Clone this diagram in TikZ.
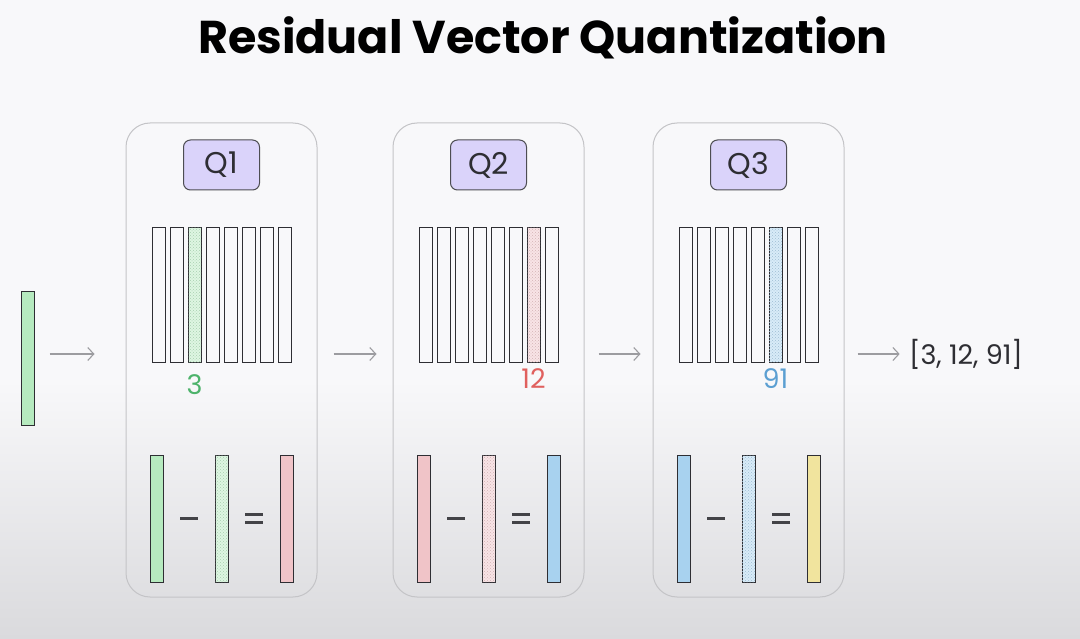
\documentclass[tikz,border=0pt]{standalone}
\usepackage{fontspec}
\setmainfont{Poppins}
\usepackage{xcolor}
\usetikzlibrary{positioning,arrows.meta,patterns}
\definecolor{BgTop}{HTML}{F8F8FA}
\definecolor{BgBottom}{HTML}{DADADD}
\definecolor{FrameGray}{HTML}{C4C4C7}
\definecolor{InkGray}{HTML}{2E2E33}
\definecolor{ArrowGray}{HTML}{9C9CA0}
\definecolor{CodeGreen}{HTML}{B6EABF}
\definecolor{CodePink}{HTML}{F0C4C8}
\definecolor{CodeBlue}{HTML}{A8D2EF}
\definecolor{CodeYellow}{HTML}{F1E49E}
\definecolor{QPurple}{HTML}{DAD3FA}
\definecolor{IdxGreen}{HTML}{4DB36B}
\definecolor{IdxRed}{HTML}{E0605E}
\definecolor{IdxBlue}{HTML}{5B9FD2}

\begin{document}
\begin{tikzpicture}[
  x=1pt, y=-1pt,
  stage/.style={draw=FrameGray, line width=1pt, rounded corners=24pt, minimum width=191pt, minimum height=474pt},
  qtag/.style={draw=InkGray!85, line width=1pt, fill=QPurple, rounded corners=7pt, minimum width=76pt, minimum height=50pt, font=\fontsize{30}{32}\selectfont, text=InkGray},
  code/.style={draw=InkGray, line width=1pt, minimum width=13pt, minimum height=134pt, inner sep=0pt},
  vec/.style={draw=InkGray, line width=1pt, minimum width=13pt, minimum height=127pt, inner sep=0pt},
  hatch/.style={fill=#1!45, postaction={pattern=crosshatch dots, pattern color=#1!75!gray}},
  idx/.style={font=\fontsize{27}{29}\selectfont},
  sign/.style={line width=2.6pt, draw=InkGray!90},
  flow/.style={-{Straight Barb[length=6pt, width=13pt]}, line width=1.1pt, draw=ArrowGray}
]
\useasboundingbox (0,0) rectangle (1080,639);
\fill[BgTop] (0,0) rectangle (1080,639);
\shade[top color=BgTop, bottom color=BgBottom] (0,380) rectangle (1080,639);

\node[font=\fontsize{46}{50}\selectfont\bfseries, text=black] (title) at (543,38) {Residual Vector Quantization};

% quantizer stages
\node[stage] (s1) at (221.5,360) {};
\node[stage] (s2) at (488.5,360) {};
\node[stage] (s3) at (748.5,360) {};
\node[qtag, below=17pt of s1.north] (q1) {Q1};
\node[qtag, below=17pt of s2.north] (q2) {Q2};
\node[qtag, below=17pt of s3.north] (q3) {Q3};

% codebooks
\foreach \s in {1,2,3}
  \foreach \i in {0,...,7}
    \node[code] (c\s-\i) at ([xshift=-63pt+18*\i pt, yshift=65pt]s\s.center) {};
\node[code, hatch=CodeGreen] at (c1-2) {};
\node[code, hatch=CodePink] at (c2-6) {};
\node[code, hatch=CodeBlue] at (c3-5) {};
\node[idx, text=IdxGreen, below=9pt of c1-2] (i1) {3};
\node[idx, text=IdxRed, below=3pt of c2-6] (i2) {12};
\node[idx, text=IdxBlue, below=3pt of c3-5] (i3) {91};

% residuals
\foreach \s/\a/\b in {1/CodeGreen/CodePink, 2/CodePink/CodeBlue, 3/CodeBlue/CodeYellow} {
  \node[vec, fill=\a] (r\s-a) at ([xshift=-65pt, yshift=-158.5pt]s\s.center) {};
  \node[vec, hatch=\a] (r\s-b) at ([yshift=-158.5pt]s\s.center) {};
  \node[vec, fill=\b] (r\s-c) at ([xshift=65pt, yshift=-158.5pt]s\s.center) {};
  \path (r\s-a) -- (r\s-b) coordinate[midway] (m\s);
  \path (r\s-b) -- (r\s-c) coordinate[midway] (e\s);
  \draw[sign] ([xshift=-9pt]m\s) -- ([xshift=9pt]m\s);
  \draw[sign] ([xshift=-9pt, yshift=4pt]e\s) -- ([xshift=9pt, yshift=4pt]e\s);
  \draw[sign] ([xshift=-9pt, yshift=-4pt]e\s) -- ([xshift=9pt, yshift=-4pt]e\s);
}

% input and output
\node[vec, fill=CodeGreen, minimum height=133pt] (inp) at (27.5,358.5) {};
\node[idx, text=InkGray] (res) at (966,354) {[3, 12, 91]};

\draw[flow, shorten <=15pt, shorten >=31pt] (inp.east |- res) -- (s1.west |- res);
\draw[flow, shorten <=16pt, shorten >=16pt] (s1.east |- res) -- (s2.west |- res);
\draw[flow, shorten <=14pt, shorten >=12pt] (s2.east |- res) -- (s3.west |- res);
\draw[flow, shorten <=13pt, shorten >=6pt] (s3.east |- res) -- (res.west);
\end{tikzpicture}
\end{document}
